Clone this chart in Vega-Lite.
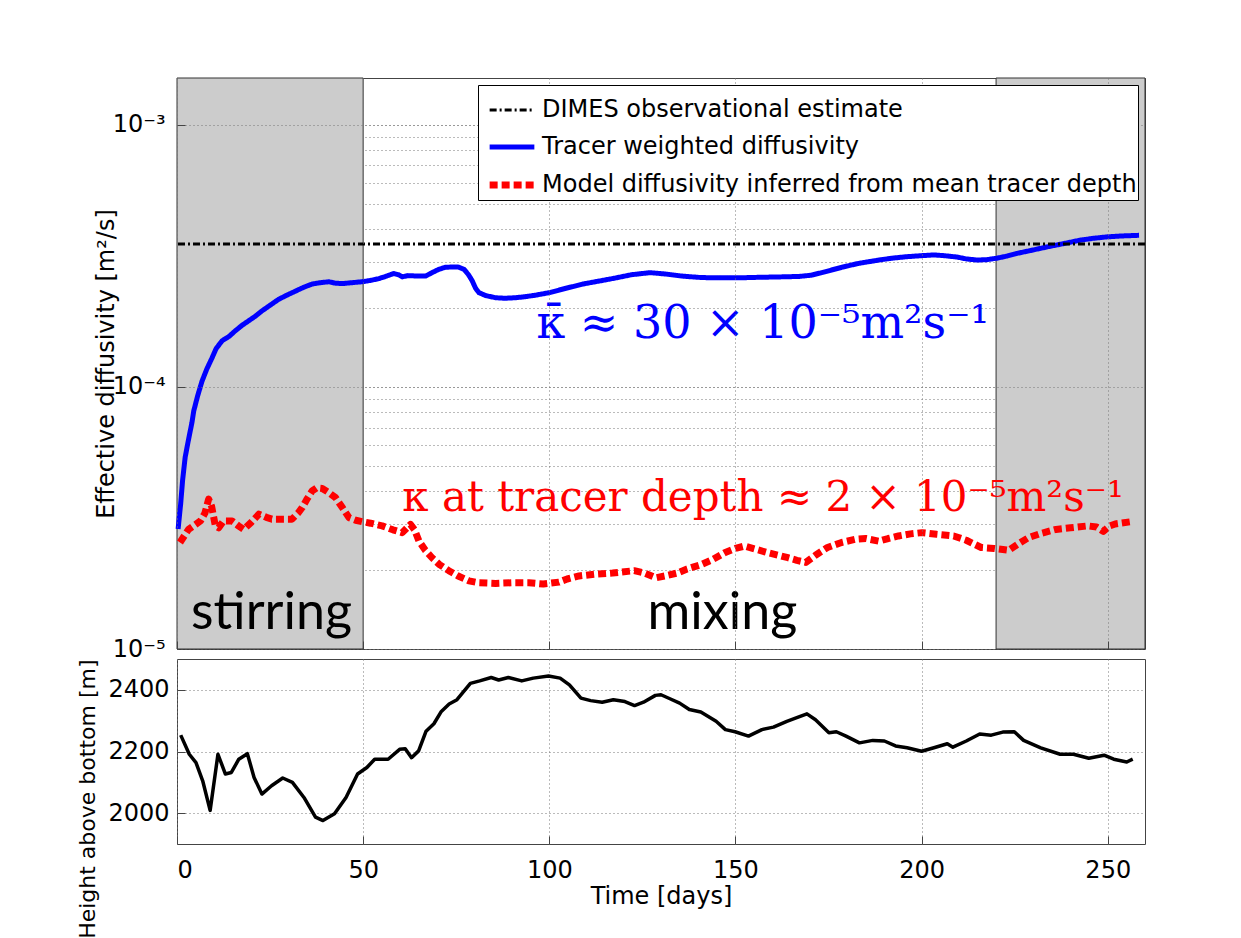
{
  "$schema": "https://vega.github.io/schema/vega-lite/v6.json",
  "background": "white",
  "padding": {"left": 76, "top": 77, "right": 5, "bottom": 5},
  "spacing": 10,
  "bounds": "flush",
  "config": {
    "font": "DejaVu Sans",
    "view": {"stroke": "#444", "strokeWidth": 1},
    "axis": {
      "labelFont": "DejaVu Sans", "labelFontSize": 24, "labelColor": "#000",
      "titleFont": "DejaVu Sans", "titleFontSize": 24, "titleFontWeight": "normal", "titleColor": "#000",
      "gridColor": "#777", "gridDash": [1, 3], "gridOpacity": 1, "gridWidth": 1,
      "tickColor": "#444", "domain": false
    },
    "legend": {
      "orient": "top-right", "offset": 7, "fillColor": "white", "strokeColor": "#000",
      "padding": 1, "symbolOffset": 7, "labelFont": "DejaVu Sans", "labelFontSize": 24, "labelColor": "#000",
      "symbolSize": 2000, "symbolType": "stroke", "rowPadding": 0, "labelOffset": 4, "labelLimit": 1000
    }
  },
  "datasets": {
    "patches": [{"start": 0, "end": 50}, {"start": 220, "end": 260}],
    "dimes": [{"series": "DIMES observational estimate", "value": 0.000351}],
    "notes": [
      {"label": "stirring", "day": 25.4, "value": 1.19e-5},
      {"label": "mixing", "day": 146.5, "value": 1.19e-5}
    ],
    "estimates": [
      {"curve": "mean", "label": "κ̄ ≈ 30 × 10⁻⁵m²s⁻¹", "day": 157.3, "value": 1.54e-4},
      {"curve": "depth", "label": "κ at tracer depth ≈ 2 × 10⁻⁵m²s⁻¹", "day": 157.4, "value": 3.36e-5}
    ],
    "top": [
      {"series": "Tracer weighted diffusivity", "day": 0.3, "value": 2.87e-5},
      {"series": "Tracer weighted diffusivity", "day": 1, "value": 3.6e-5},
      {"series": "Tracer weighted diffusivity", "day": 1.5, "value": 4.4e-5},
      {"series": "Tracer weighted diffusivity", "day": 2.2, "value": 5.4e-5},
      {"series": "Tracer weighted diffusivity", "day": 3, "value": 6.2e-5},
      {"series": "Tracer weighted diffusivity", "day": 4, "value": 7.3e-5},
      {"series": "Tracer weighted diffusivity", "day": 4.5, "value": 8.1e-5},
      {"series": "Tracer weighted diffusivity", "day": 5.5, "value": 9.2e-5},
      {"series": "Tracer weighted diffusivity", "day": 6.7, "value": 1.05e-4},
      {"series": "Tracer weighted diffusivity", "day": 8, "value": 1.17e-4},
      {"series": "Tracer weighted diffusivity", "day": 9.4, "value": 1.29e-4},
      {"series": "Tracer weighted diffusivity", "day": 10.5, "value": 1.4e-4},
      {"series": "Tracer weighted diffusivity", "day": 12.1, "value": 1.5e-4},
      {"series": "Tracer weighted diffusivity", "day": 14, "value": 1.56e-4},
      {"series": "Tracer weighted diffusivity", "day": 15.7, "value": 1.64e-4},
      {"series": "Tracer weighted diffusivity", "day": 17.5, "value": 1.72e-4},
      {"series": "Tracer weighted diffusivity", "day": 19.3, "value": 1.79e-4},
      {"series": "Tracer weighted diffusivity", "day": 21, "value": 1.86e-4},
      {"series": "Tracer weighted diffusivity", "day": 22.8, "value": 1.95e-4},
      {"series": "Tracer weighted diffusivity", "day": 25, "value": 2.05e-4},
      {"series": "Tracer weighted diffusivity", "day": 27.3, "value": 2.16e-4},
      {"series": "Tracer weighted diffusivity", "day": 29.5, "value": 2.24e-4},
      {"series": "Tracer weighted diffusivity", "day": 31.8, "value": 2.32e-4},
      {"series": "Tracer weighted diffusivity", "day": 34, "value": 2.4e-4},
      {"series": "Tracer weighted diffusivity", "day": 36.3, "value": 2.47e-4},
      {"series": "Tracer weighted diffusivity", "day": 38.5, "value": 2.5e-4},
      {"series": "Tracer weighted diffusivity", "day": 40.8, "value": 2.52e-4},
      {"series": "Tracer weighted diffusivity", "day": 42.5, "value": 2.49e-4},
      {"series": "Tracer weighted diffusivity", "day": 44.4, "value": 2.48e-4},
      {"series": "Tracer weighted diffusivity", "day": 47, "value": 2.5e-4},
      {"series": "Tracer weighted diffusivity", "day": 49.7, "value": 2.52e-4},
      {"series": "Tracer weighted diffusivity", "day": 52, "value": 2.55e-4},
      {"series": "Tracer weighted diffusivity", "day": 54.2, "value": 2.59e-4},
      {"series": "Tracer weighted diffusivity", "day": 56, "value": 2.64e-4},
      {"series": "Tracer weighted diffusivity", "day": 58.2, "value": 2.71e-4},
      {"series": "Tracer weighted diffusivity", "day": 59.5, "value": 2.68e-4},
      {"series": "Tracer weighted diffusivity", "day": 60.5, "value": 2.63e-4},
      {"series": "Tracer weighted diffusivity", "day": 62, "value": 2.66e-4},
      {"series": "Tracer weighted diffusivity", "day": 64.5, "value": 2.65e-4},
      {"series": "Tracer weighted diffusivity", "day": 66.8, "value": 2.65e-4},
      {"series": "Tracer weighted diffusivity", "day": 68.5, "value": 2.73e-4},
      {"series": "Tracer weighted diffusivity", "day": 70.3, "value": 2.81e-4},
      {"series": "Tracer weighted diffusivity", "day": 72, "value": 2.86e-4},
      {"series": "Tracer weighted diffusivity", "day": 73.9, "value": 2.87e-4},
      {"series": "Tracer weighted diffusivity", "day": 75.5, "value": 2.87e-4},
      {"series": "Tracer weighted diffusivity", "day": 77.1, "value": 2.81e-4},
      {"series": "Tracer weighted diffusivity", "day": 78.3, "value": 2.68e-4},
      {"series": "Tracer weighted diffusivity", "day": 79.3, "value": 2.54e-4},
      {"series": "Tracer weighted diffusivity", "day": 80.2, "value": 2.38e-4},
      {"series": "Tracer weighted diffusivity", "day": 81.1, "value": 2.29e-4},
      {"series": "Tracer weighted diffusivity", "day": 83, "value": 2.23e-4},
      {"series": "Tracer weighted diffusivity", "day": 85.6, "value": 2.19e-4},
      {"series": "Tracer weighted diffusivity", "day": 88, "value": 2.18e-4},
      {"series": "Tracer weighted diffusivity", "day": 90.9, "value": 2.19e-4},
      {"series": "Tracer weighted diffusivity", "day": 93.5, "value": 2.21e-4},
      {"series": "Tracer weighted diffusivity", "day": 96.3, "value": 2.24e-4},
      {"series": "Tracer weighted diffusivity", "day": 100, "value": 2.29e-4},
      {"series": "Tracer weighted diffusivity", "day": 103.5, "value": 2.36e-4},
      {"series": "Tracer weighted diffusivity", "day": 106, "value": 2.41e-4},
      {"series": "Tracer weighted diffusivity", "day": 109, "value": 2.47e-4},
      {"series": "Tracer weighted diffusivity", "day": 113, "value": 2.53e-4},
      {"series": "Tracer weighted diffusivity", "day": 117.5, "value": 2.6e-4},
      {"series": "Tracer weighted diffusivity", "day": 122, "value": 2.68e-4},
      {"series": "Tracer weighted diffusivity", "day": 127, "value": 2.73e-4},
      {"series": "Tracer weighted diffusivity", "day": 131, "value": 2.7e-4},
      {"series": "Tracer weighted diffusivity", "day": 135.5, "value": 2.65e-4},
      {"series": "Tracer weighted diffusivity", "day": 140, "value": 2.62e-4},
      {"series": "Tracer weighted diffusivity", "day": 143, "value": 2.61e-4},
      {"series": "Tracer weighted diffusivity", "day": 147, "value": 2.61e-4},
      {"series": "Tracer weighted diffusivity", "day": 151.4, "value": 2.61e-4},
      {"series": "Tracer weighted diffusivity", "day": 156, "value": 2.62e-4},
      {"series": "Tracer weighted diffusivity", "day": 162, "value": 2.63e-4},
      {"series": "Tracer weighted diffusivity", "day": 167, "value": 2.64e-4},
      {"series": "Tracer weighted diffusivity", "day": 170.4, "value": 2.67e-4},
      {"series": "Tracer weighted diffusivity", "day": 174, "value": 2.75e-4},
      {"series": "Tracer weighted diffusivity", "day": 178.9, "value": 2.87e-4},
      {"series": "Tracer weighted diffusivity", "day": 183, "value": 2.96e-4},
      {"series": "Tracer weighted diffusivity", "day": 188.5, "value": 3.05e-4},
      {"series": "Tracer weighted diffusivity", "day": 192, "value": 3.1e-4},
      {"series": "Tracer weighted diffusivity", "day": 195.9, "value": 3.14e-4},
      {"series": "Tracer weighted diffusivity", "day": 200, "value": 3.17e-4},
      {"series": "Tracer weighted diffusivity", "day": 203.3, "value": 3.19e-4},
      {"series": "Tracer weighted diffusivity", "day": 206, "value": 3.17e-4},
      {"series": "Tracer weighted diffusivity", "day": 209.6, "value": 3.13e-4},
      {"series": "Tracer weighted diffusivity", "day": 212, "value": 3.08e-4},
      {"series": "Tracer weighted diffusivity", "day": 214.9, "value": 3.05e-4},
      {"series": "Tracer weighted diffusivity", "day": 217.5, "value": 3.06e-4},
      {"series": "Tracer weighted diffusivity", "day": 220.2, "value": 3.1e-4},
      {"series": "Tracer weighted diffusivity", "day": 223, "value": 3.16e-4},
      {"series": "Tracer weighted diffusivity", "day": 225.5, "value": 3.23e-4},
      {"series": "Tracer weighted diffusivity", "day": 229, "value": 3.31e-4},
      {"series": "Tracer weighted diffusivity", "day": 234, "value": 3.43e-4},
      {"series": "Tracer weighted diffusivity", "day": 238, "value": 3.52e-4},
      {"series": "Tracer weighted diffusivity", "day": 242.5, "value": 3.63e-4},
      {"series": "Tracer weighted diffusivity", "day": 246, "value": 3.69e-4},
      {"series": "Tracer weighted diffusivity", "day": 249.9, "value": 3.74e-4},
      {"series": "Tracer weighted diffusivity", "day": 254, "value": 3.77e-4},
      {"series": "Tracer weighted diffusivity", "day": 258.4, "value": 3.79e-4},
      {"series": "Model diffusivity inferred from mean tracer depth", "day": 0.8, "value": 2.55e-5},
      {"series": "Model diffusivity inferred from mean tracer depth", "day": 3.1, "value": 2.86e-5},
      {"series": "Model diffusivity inferred from mean tracer depth", "day": 6.3, "value": 3.08e-5},
      {"series": "Model diffusivity inferred from mean tracer depth", "day": 7.5, "value": 3.3e-5},
      {"series": "Model diffusivity inferred from mean tracer depth", "day": 8.5, "value": 3.73e-5},
      {"series": "Model diffusivity inferred from mean tracer depth", "day": 9.3, "value": 3.5e-5},
      {"series": "Model diffusivity inferred from mean tracer depth", "day": 10.3, "value": 2.95e-5},
      {"series": "Model diffusivity inferred from mean tracer depth", "day": 11.2, "value": 2.9e-5},
      {"series": "Model diffusivity inferred from mean tracer depth", "day": 12.5, "value": 3.08e-5},
      {"series": "Model diffusivity inferred from mean tracer depth", "day": 14.8, "value": 3.08e-5},
      {"series": "Model diffusivity inferred from mean tracer depth", "day": 16.5, "value": 2.95e-5},
      {"series": "Model diffusivity inferred from mean tracer depth", "day": 17.9, "value": 2.86e-5},
      {"series": "Model diffusivity inferred from mean tracer depth", "day": 20, "value": 3.05e-5},
      {"series": "Model diffusivity inferred from mean tracer depth", "day": 22, "value": 3.27e-5},
      {"series": "Model diffusivity inferred from mean tracer depth", "day": 24, "value": 3.18e-5},
      {"series": "Model diffusivity inferred from mean tracer depth", "day": 25.5, "value": 3.13e-5},
      {"series": "Model diffusivity inferred from mean tracer depth", "day": 28, "value": 3.13e-5},
      {"series": "Model diffusivity inferred from mean tracer depth", "day": 30.9, "value": 3.13e-5},
      {"series": "Model diffusivity inferred from mean tracer depth", "day": 32.5, "value": 3.3e-5},
      {"series": "Model diffusivity inferred from mean tracer depth", "day": 33.6, "value": 3.46e-5},
      {"series": "Model diffusivity inferred from mean tracer depth", "day": 35, "value": 3.75e-5},
      {"series": "Model diffusivity inferred from mean tracer depth", "day": 36.3, "value": 4.01e-5},
      {"series": "Model diffusivity inferred from mean tracer depth", "day": 37.5, "value": 4.12e-5},
      {"series": "Model diffusivity inferred from mean tracer depth", "day": 39, "value": 4.1e-5},
      {"series": "Model diffusivity inferred from mean tracer depth", "day": 40.8, "value": 3.95e-5},
      {"series": "Model diffusivity inferred from mean tracer depth", "day": 42.6, "value": 3.78e-5},
      {"series": "Model diffusivity inferred from mean tracer depth", "day": 44.5, "value": 3.45e-5},
      {"series": "Model diffusivity inferred from mean tracer depth", "day": 46.2, "value": 3.17e-5},
      {"series": "Model diffusivity inferred from mean tracer depth", "day": 48, "value": 3.1e-5},
      {"series": "Model diffusivity inferred from mean tracer depth", "day": 49.7, "value": 3.06e-5},
      {"series": "Model diffusivity inferred from mean tracer depth", "day": 52, "value": 3.02e-5},
      {"series": "Model diffusivity inferred from mean tracer depth", "day": 55.1, "value": 2.95e-5},
      {"series": "Model diffusivity inferred from mean tracer depth", "day": 58, "value": 2.85e-5},
      {"series": "Model diffusivity inferred from mean tracer depth", "day": 60.5, "value": 2.78e-5},
      {"series": "Model diffusivity inferred from mean tracer depth", "day": 62.7, "value": 2.99e-5},
      {"series": "Model diffusivity inferred from mean tracer depth", "day": 63.8, "value": 2.85e-5},
      {"series": "Model diffusivity inferred from mean tracer depth", "day": 65, "value": 2.58e-5},
      {"series": "Model diffusivity inferred from mean tracer depth", "day": 66.7, "value": 2.38e-5},
      {"series": "Model diffusivity inferred from mean tracer depth", "day": 68.5, "value": 2.23e-5},
      {"series": "Model diffusivity inferred from mean tracer depth", "day": 70.5, "value": 2.1e-5},
      {"series": "Model diffusivity inferred from mean tracer depth", "day": 73, "value": 1.99e-5},
      {"series": "Model diffusivity inferred from mean tracer depth", "day": 75.5, "value": 1.9e-5},
      {"series": "Model diffusivity inferred from mean tracer depth", "day": 78.4, "value": 1.82e-5},
      {"series": "Model diffusivity inferred from mean tracer depth", "day": 81, "value": 1.79e-5},
      {"series": "Model diffusivity inferred from mean tracer depth", "day": 85.6, "value": 1.78e-5},
      {"series": "Model diffusivity inferred from mean tracer depth", "day": 90, "value": 1.79e-5},
      {"series": "Model diffusivity inferred from mean tracer depth", "day": 94.5, "value": 1.79e-5},
      {"series": "Model diffusivity inferred from mean tracer depth", "day": 98.4, "value": 1.77e-5},
      {"series": "Model diffusivity inferred from mean tracer depth", "day": 102.6, "value": 1.8e-5},
      {"series": "Model diffusivity inferred from mean tracer depth", "day": 104.8, "value": 1.85e-5},
      {"series": "Model diffusivity inferred from mean tracer depth", "day": 108, "value": 1.9e-5},
      {"series": "Model diffusivity inferred from mean tracer depth", "day": 112.2, "value": 1.93e-5},
      {"series": "Model diffusivity inferred from mean tracer depth", "day": 117, "value": 1.95e-5},
      {"series": "Model diffusivity inferred from mean tracer depth", "day": 122.8, "value": 1.99e-5},
      {"series": "Model diffusivity inferred from mean tracer depth", "day": 125.5, "value": 1.95e-5},
      {"series": "Model diffusivity inferred from mean tracer depth", "day": 128.6, "value": 1.87e-5},
      {"series": "Model diffusivity inferred from mean tracer depth", "day": 131, "value": 1.9e-5},
      {"series": "Model diffusivity inferred from mean tracer depth", "day": 134.4, "value": 1.95e-5},
      {"series": "Model diffusivity inferred from mean tracer depth", "day": 137, "value": 2.02e-5},
      {"series": "Model diffusivity inferred from mean tracer depth", "day": 140.8, "value": 2.1e-5},
      {"series": "Model diffusivity inferred from mean tracer depth", "day": 144, "value": 2.2e-5},
      {"series": "Model diffusivity inferred from mean tracer depth", "day": 147.1, "value": 2.33e-5},
      {"series": "Model diffusivity inferred from mean tracer depth", "day": 150, "value": 2.42e-5},
      {"series": "Model diffusivity inferred from mean tracer depth", "day": 152.4, "value": 2.47e-5},
      {"series": "Model diffusivity inferred from mean tracer depth", "day": 155.5, "value": 2.4e-5},
      {"series": "Model diffusivity inferred from mean tracer depth", "day": 158.8, "value": 2.33e-5},
      {"series": "Model diffusivity inferred from mean tracer depth", "day": 161.5, "value": 2.28e-5},
      {"series": "Model diffusivity inferred from mean tracer depth", "day": 164.1, "value": 2.23e-5},
      {"series": "Model diffusivity inferred from mean tracer depth", "day": 166.5, "value": 2.18e-5},
      {"series": "Model diffusivity inferred from mean tracer depth", "day": 168.9, "value": 2.14e-5},
      {"series": "Model diffusivity inferred from mean tracer depth", "day": 171.5, "value": 2.28e-5},
      {"series": "Model diffusivity inferred from mean tracer depth", "day": 174.7, "value": 2.44e-5},
      {"series": "Model diffusivity inferred from mean tracer depth", "day": 178.5, "value": 2.55e-5},
      {"series": "Model diffusivity inferred from mean tracer depth", "day": 182.1, "value": 2.62e-5},
      {"series": "Model diffusivity inferred from mean tracer depth", "day": 185, "value": 2.64e-5},
      {"series": "Model diffusivity inferred from mean tracer depth", "day": 188.5, "value": 2.58e-5},
      {"series": "Model diffusivity inferred from mean tracer depth", "day": 191, "value": 2.64e-5},
      {"series": "Model diffusivity inferred from mean tracer depth", "day": 193.8, "value": 2.7e-5},
      {"series": "Model diffusivity inferred from mean tracer depth", "day": 197, "value": 2.75e-5},
      {"series": "Model diffusivity inferred from mean tracer depth", "day": 200.1, "value": 2.78e-5},
      {"series": "Model diffusivity inferred from mean tracer depth", "day": 204, "value": 2.74e-5},
      {"series": "Model diffusivity inferred from mean tracer depth", "day": 208.6, "value": 2.7e-5},
      {"series": "Model diffusivity inferred from mean tracer depth", "day": 212, "value": 2.6e-5},
      {"series": "Model diffusivity inferred from mean tracer depth", "day": 216, "value": 2.44e-5},
      {"series": "Model diffusivity inferred from mean tracer depth", "day": 219.5, "value": 2.42e-5},
      {"series": "Model diffusivity inferred from mean tracer depth", "day": 223.4, "value": 2.38e-5},
      {"series": "Model diffusivity inferred from mean tracer depth", "day": 226, "value": 2.52e-5},
      {"series": "Model diffusivity inferred from mean tracer depth", "day": 228.7, "value": 2.66e-5},
      {"series": "Model diffusivity inferred from mean tracer depth", "day": 232, "value": 2.76e-5},
      {"series": "Model diffusivity inferred from mean tracer depth", "day": 236.1, "value": 2.86e-5},
      {"series": "Model diffusivity inferred from mean tracer depth", "day": 240, "value": 2.9e-5},
      {"series": "Model diffusivity inferred from mean tracer depth", "day": 244.6, "value": 2.95e-5},
      {"series": "Model diffusivity inferred from mean tracer depth", "day": 247, "value": 2.92e-5},
      {"series": "Model diffusivity inferred from mean tracer depth", "day": 248.8, "value": 2.81e-5},
      {"series": "Model diffusivity inferred from mean tracer depth", "day": 250.5, "value": 2.95e-5},
      {"series": "Model diffusivity inferred from mean tracer depth", "day": 252, "value": 3.0e-5},
      {"series": "Model diffusivity inferred from mean tracer depth", "day": 256.2, "value": 3.06e-5}
    ],
    "height": [
      {"day": 1, "height": 2253}, {"day": 3.3, "height": 2191}, {"day": 5.1, "height": 2164},
      {"day": 6.9, "height": 2105}, {"day": 8.9, "height": 2009}, {"day": 11, "height": 2191},
      {"day": 13, "height": 2127}, {"day": 14.6, "height": 2132}, {"day": 16.6, "height": 2175},
      {"day": 18.9, "height": 2193}, {"day": 20.7, "height": 2116}, {"day": 22.8, "height": 2062},
      {"day": 25.4, "height": 2089}, {"day": 28.4, "height": 2114}, {"day": 31, "height": 2100},
      {"day": 34.1, "height": 2051}, {"day": 37.2, "height": 1987}, {"day": 39.2, "height": 1976},
      {"day": 42.3, "height": 1998}, {"day": 45.4, "height": 2051}, {"day": 48.5, "height": 2127},
      {"day": 51, "height": 2148}, {"day": 53.1, "height": 2175}, {"day": 56.7, "height": 2175},
      {"day": 59.8, "height": 2207}, {"day": 61.3, "height": 2209}, {"day": 63, "height": 2180},
      {"day": 64.9, "height": 2202}, {"day": 66.9, "height": 2266}, {"day": 69, "height": 2290},
      {"day": 71, "height": 2330}, {"day": 73.1, "height": 2354}, {"day": 75.2, "height": 2368},
      {"day": 78.8, "height": 2421}, {"day": 81.3, "height": 2429}, {"day": 84.4, "height": 2440},
      {"day": 86.4, "height": 2432}, {"day": 89, "height": 2440}, {"day": 92.6, "height": 2429},
      {"day": 95.7, "height": 2438}, {"day": 99.8, "height": 2445}, {"day": 102.9, "height": 2438},
      {"day": 105.4, "height": 2416}, {"day": 108.5, "height": 2373}, {"day": 111.1, "height": 2365},
      {"day": 114.2, "height": 2360}, {"day": 117.2, "height": 2368}, {"day": 120.3, "height": 2362},
      {"day": 122.9, "height": 2349}, {"day": 125.3, "height": 2360}, {"day": 128.5, "height": 2382},
      {"day": 130, "height": 2384}, {"day": 132.4, "height": 2371}, {"day": 135, "height": 2357},
      {"day": 137.6, "height": 2336}, {"day": 140.7, "height": 2328}, {"day": 144.8, "height": 2298},
      {"day": 147.3, "height": 2271}, {"day": 149.9, "height": 2264}, {"day": 153.5, "height": 2250},
      {"day": 157.1, "height": 2271}, {"day": 160.2, "height": 2279}, {"day": 163.8, "height": 2298},
      {"day": 166.3, "height": 2309}, {"day": 169.2, "height": 2322}, {"day": 171.5, "height": 2303},
      {"day": 175.1, "height": 2261}, {"day": 177.1, "height": 2264}, {"day": 179.7, "height": 2250},
      {"day": 183.3, "height": 2228}, {"day": 186.9, "height": 2236}, {"day": 190, "height": 2234},
      {"day": 193, "height": 2218}, {"day": 196.1, "height": 2212}, {"day": 200, "height": 2201},
      {"day": 203.3, "height": 2212}, {"day": 206.9, "height": 2225}, {"day": 208.4, "height": 2214},
      {"day": 212, "height": 2234}, {"day": 215.6, "height": 2257}, {"day": 218.7, "height": 2253},
      {"day": 221.8, "height": 2263}, {"day": 224.9, "height": 2264}, {"day": 227.4, "height": 2236},
      {"day": 232, "height": 2212}, {"day": 237.2, "height": 2191}, {"day": 240.8, "height": 2191},
      {"day": 244.9, "height": 2178}, {"day": 249, "height": 2188}, {"day": 251.6, "height": 2175},
      {"day": 255.1, "height": 2166}, {"day": 256.7, "height": 2175}
    ]
  },
  "vconcat": [
    {
      "width": 968,
      "height": 571,
      "resolve": {"axis": {"y": "independent"}},
      "layer": [
        {
          "data": {"name": "patches"},
          "mark": {"type": "rect", "fill": "#cccccc", "stroke": "#333", "strokeWidth": 1},
          "encoding": {
            "x": {
              "field": "start", "type": "quantitative",
              "scale": {"domain": [0, 260], "nice": false, "zero": false},
              "axis": {"values": [0, 50, 100, 150, 200, 250], "labels": false, "title": null, "tickSize": -8, "grid": true, "zindex": 1}
            },
            "x2": {"field": "end"}
          }
        },
        {
          "data": {"name": "top"},
          "mark": {"type": "line", "strokeCap": "butt", "strokeJoin": "round"},
          "encoding": {
            "x": {"field": "day", "type": "quantitative"},
            "y": {
              "field": "value", "type": "quantitative",
              "scale": {"type": "log", "domain": [0.00001, 0.00151], "nice": false},
              "axis": {
                "orient": "left",
                "values": [0.00001, 0.00002, 0.00003, 0.00004, 0.00005, 0.00006, 0.00007, 0.00008, 0.00009, 0.0001, 0.0002, 0.0003, 0.0004, 0.0005, 0.0006, 0.0007, 0.0008, 0.0009, 0.001],
                "labelExpr": "datum.value == 0.001 ? '10⁻³' : datum.value == 0.0001 ? '10⁻⁴' : datum.value == 0.00001 ? '10⁻⁵' : ''",
                "ticks": false, "grid": true, "zindex": 0, "labelPadding": 12,
                "title": "Effective diffusivity [m²/s]", "titlePadding": -6
              }
            },
            "color": {
              "field": "series", "type": "nominal",
              "scale": {"domain": ["DIMES observational estimate", "Tracer weighted diffusivity", "Model diffusivity inferred from mean tracer depth"], "range": ["#000000", "#0000ff", "#ff0000"]},
              "legend": {"title": null}
            },
            "strokeDash": {
              "field": "series", "type": "nominal",
              "scale": {"domain": ["DIMES observational estimate", "Tracer weighted diffusivity", "Model diffusivity inferred from mean tracer depth"], "range": [[7, 3, 2, 3], [1, 0], [8, 4]]},
              "legend": {"title": null}
            },
            "strokeWidth": {
              "field": "series", "type": "nominal",
              "scale": {"domain": ["DIMES observational estimate", "Tracer weighted diffusivity", "Model diffusivity inferred from mean tracer depth"], "range": [3, 7, 5]},
              "legend": {"title": null}
            }
          }
        },
        {
          "data": {"name": "dimes"},
          "mark": {"type": "rule", "strokeCap": "butt"},
          "encoding": {
            "y": {
              "field": "value", "type": "quantitative",
              "axis": {"orient": "left", "values": [0.0001, 0.001], "labels": false, "title": null, "ticks": true, "tickSize": -8, "grid": true, "zindex": 1}
            },
            "color": {"field": "series", "type": "nominal", "legend": {"title": null}},
            "strokeDash": {"field": "series", "type": "nominal", "legend": {"title": null}},
            "strokeWidth": {"field": "series", "type": "nominal", "legend": {"title": null}}
          }
        },
        {
          "data": {"name": "notes"},
          "mark": {"type": "text", "font": "Lato", "fontSize": 52, "color": "#000", "align": "center", "baseline": "alphabetic"},
          "encoding": {
            "x": {"field": "day", "type": "quantitative"},
            "y": {"field": "value", "type": "quantitative", "axis": null},
            "text": {"field": "label"}
          }
        },
        {
          "data": {"name": "estimates"},
          "transform": [{"filter": "datum.curve == 'mean'"}],
          "mark": {"type": "text", "font": "DejaVu Serif", "fontSize": 46, "color": "#0000ff", "align": "center", "baseline": "alphabetic"},
          "encoding": {
            "x": {"field": "day", "type": "quantitative"},
            "y": {"field": "value", "type": "quantitative", "axis": null},
            "text": {"field": "label"}
          }
        },
        {
          "data": {"name": "estimates"},
          "transform": [{"filter": "datum.curve == 'depth'"}],
          "mark": {"type": "text", "font": "DejaVu Serif", "fontSize": 42, "color": "#ff0000", "align": "center", "baseline": "alphabetic"},
          "encoding": {
            "x": {"field": "day", "type": "quantitative"},
            "y": {"field": "value", "type": "quantitative", "axis": null},
            "text": {"field": "label"}
          }
        }
      ]
    },
    {
      "width": 968,
      "height": 185,
      "data": {"name": "height"},
      "mark": {"type": "line", "color": "#000", "strokeWidth": 3.5, "strokeJoin": "round"},
      "encoding": {
        "x": {
          "field": "day", "type": "quantitative",
          "scale": {"domain": [0, 260], "nice": false, "zero": false},
          "axis": {"values": [0, 50, 100, 150, 200, 250], "title": "Time [days]", "grid": true, "tickSize": -8, "labelPadding": 22, "titlePadding": 2}
        },
        "y": {
          "field": "height", "type": "quantitative",
          "scale": {"domain": [1900, 2500], "nice": false, "zero": false},
          "axis": {"values": [2000, 2200, 2400], "format": "d", "title": "Height above bottom [m]", "titleFontSize": 22, "titleAnchor": "end", "grid": true, "tickSize": -8, "labelPadding": 16, "titlePadding": 8}
        }
      }
    }
  ]
}
